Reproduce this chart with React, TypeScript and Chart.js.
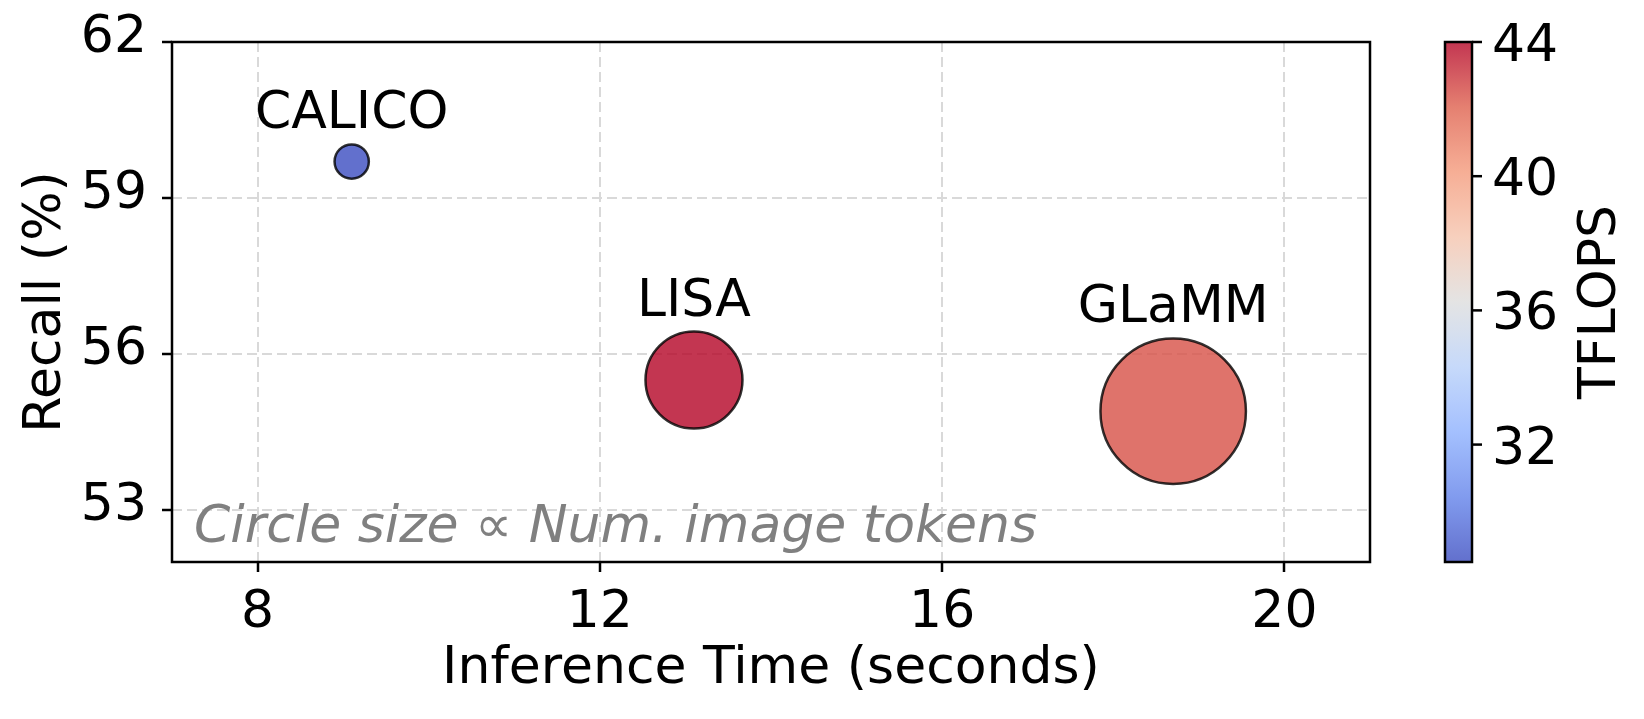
import React, { useEffect, useRef } from 'react';
import { Chart, registerables } from 'chart.js';

Chart.register(...registerables);

// ---- data ----
const models = ['CALICO', 'LISA', 'GLaMM'];
const inferenceTime = [9.1, 13.1, 18.7];
const recall = [59.7, 55.5, 54.9];
const tflops = [28.5, 44.0, 42.4];
const imageTokens = [32, 256, 576];
const xTicks = [8, 12, 16, 20];
const yTicks = [53, 56, 59, 62];
const cbTicks = [32, 36, 40, 44];
const xRange = [7, 21];
const yRange = [52, 62];

const FONT = '"DejaVu Sans", sans-serif';
const SIZE_K = 3.03;
const ALPHA = 0.8;

const COOLWARM: number[][] = [
  [59, 76, 192], [98, 130, 234], [141, 176, 254], [184, 208, 249],
  [221, 221, 221], [245, 196, 173], [244, 154, 123], [222, 96, 77], [180, 4, 38],
];

function coolwarm(t: number, a = ALPHA) {
  t = Math.max(0, Math.min(1, t));
  const n = COOLWARM.length - 1;
  const i = Math.min(n - 1, Math.floor(t * n));
  const f = t * n - i;
  const c0 = COOLWARM[i], c1 = COOLWARM[i + 1];
  const c = c0.map((v, k) => Math.round(v + (c1[k] - v) * f));
  return `rgba(${c[0]},${c[1]},${c[2]},${a})`;
}

const vmin = Math.min(...tflops);
const vmax = Math.max(...tflops);
const radii = imageTokens.map((t) => SIZE_K * Math.sqrt(t));

const overlay = {
  id: 'overlay',
  afterDatasetsDraw(chart: any) {
    const { ctx, chartArea: a, scales } = chart;
    const xs = scales.x, ys = scales.y, cb = scales.cb;
    ctx.save();
    ctx.setLineDash([]);
    // frame
    ctx.strokeStyle = '#000';
    ctx.lineWidth = 2.5;
    ctx.strokeRect(a.left, a.top, a.right - a.left, a.bottom - a.top);

    // point labels
    ctx.font = `52px ${FONT}`;
    ctx.fillStyle = '#000';
    ctx.textAlign = 'center';
    ctx.textBaseline = 'alphabetic';
    models.forEach((m, i) => {
      const px = xs.getPixelForValue(inferenceTime[i]);
      const py = ys.getPixelForValue(recall[i]);
      ctx.fillText(m, px, py - radii[i] - 16);
    });

    // annotation
    ctx.font = `italic 52px ${FONT}`;
    ctx.fillStyle = '#808080';
    ctx.textAlign = 'left';
    ctx.fillText('Circle size \u221D Num. image tokens', a.left + 22, a.bottom - 20);

    // colorbar
    const x0 = a.right + 75;
    const w = 27;
    const top = cb.getPixelForValue(vmax);
    const bot = cb.getPixelForValue(vmin);
    const g = ctx.createLinearGradient(0, bot, 0, top);
    const steps = 32;
    for (let s = 0; s <= steps; s++) g.addColorStop(s / steps, coolwarm(s / steps));
    ctx.fillStyle = g;
    ctx.fillRect(x0, top, w, bot - top);
    ctx.strokeStyle = '#000';
    ctx.lineWidth = 2.5;
    ctx.strokeRect(x0, top, w, bot - top);

    ctx.font = `52px ${FONT}`;
    ctx.fillStyle = '#000';
    ctx.textAlign = 'left';
    ctx.textBaseline = 'alphabetic';
    cbTicks.forEach((v) => {
      const y = cb.getPixelForValue(v);
      ctx.beginPath();
      ctx.moveTo(x0 + w, y);
      ctx.lineTo(x0 + w + 10, y);
      ctx.stroke();
      ctx.fillText(String(v), x0 + w + 20, y + 19);
    });

    // colorbar label
    ctx.save();
    ctx.translate(1615, (top + bot) / 2);
    ctx.rotate(-Math.PI / 2);
    ctx.textAlign = 'center';
    ctx.fillText('TFLOPS', 0, 0);
    ctx.restore();

    ctx.restore();
  },
};

export default function App() {
  const ref = useRef<HTMLCanvasElement | null>(null);
  useEffect(() => {
    if (!ref.current) return;
    const tickFont = { family: FONT, size: 52 };
    const chart = new Chart(ref.current, {
      type: 'bubble',
      data: {
        datasets: [
          {
            data: models.map((_, i) => ({ x: inferenceTime[i], y: recall[i], r: radii[i] })),
            backgroundColor: tflops.map((v) => coolwarm((v - vmin) / (vmax - vmin))),
            borderColor: 'rgba(0,0,0,0.8)',
            borderWidth: 2.5,
          },
        ],
      },
      options: {
        responsive: false,
        animation: false,
        devicePixelRatio: 1,
        events: [],
        layout: { autoPadding: false, padding: { top: 42, right: 274, left: 0, bottom: 0 } },
        plugins: { legend: { display: false }, tooltip: { enabled: false } },
        scales: {
          x: {
            type: 'linear',
            min: xRange[0],
            max: xRange[1],
            afterBuildTicks: (s: any) => { s.ticks = xTicks.map((v) => ({ value: v })); },
            afterFit: (s: any) => { s.height = 157; s.paddingLeft = 0; s.paddingRight = 0; },
            ticks: { font: tickFont, color: '#000', padding: 10, maxRotation: 0, autoSkip: false },
            grid: { color: '#d9d9d9', lineWidth: 2, tickLength: 10, tickColor: '#000', tickWidth: 2.5, tickBorderDash: [] },
            border: { display: false, dash: [10, 5] },
            title: { display: true, text: 'Inference Time (seconds)', color: '#000', font: { family: FONT, size: 52, lineHeight: 1.2 }, padding: { top: 0, bottom: 18 } },
          },
          y: {
            type: 'linear',
            min: yRange[0],
            max: yRange[1],
            afterBuildTicks: (s: any) => { s.ticks = yTicks.map((v) => ({ value: v })); },
            afterFit: (s: any) => { s.width = 172; s.paddingTop = 0; s.paddingBottom = 0; },
            ticks: { font: tickFont, color: '#000', padding: 15, labelOffset: -4, autoSkip: false },
            grid: { color: '#d9d9d9', lineWidth: 2, tickLength: 10, tickColor: '#000', tickWidth: 2.5, tickBorderDash: [] },
            border: { display: false, dash: [10, 5] },
            title: { display: true, text: 'Recall (%)', color: '#000', font: { family: FONT, size: 52, lineHeight: 1.2 }, padding: { top: 15, bottom: 0 } },
          },
          cb: {
            type: 'linear',
            axis: 'y',
            position: 'right',
            display: false,
            min: vmin,
            max: vmax,
          },
        },
      },
      plugins: [overlay],
    } as any);
    return () => chart.destroy();
  }, []);
  return (
    <div style={{ position: 'absolute', left: 0, top: 0, width: 1644, height: 719, background: '#fff' }}>
      <canvas ref={ref} width={1644} height={719} style={{ width: 1644, height: 719, display: 'block' }} />
    </div>
  );
}
